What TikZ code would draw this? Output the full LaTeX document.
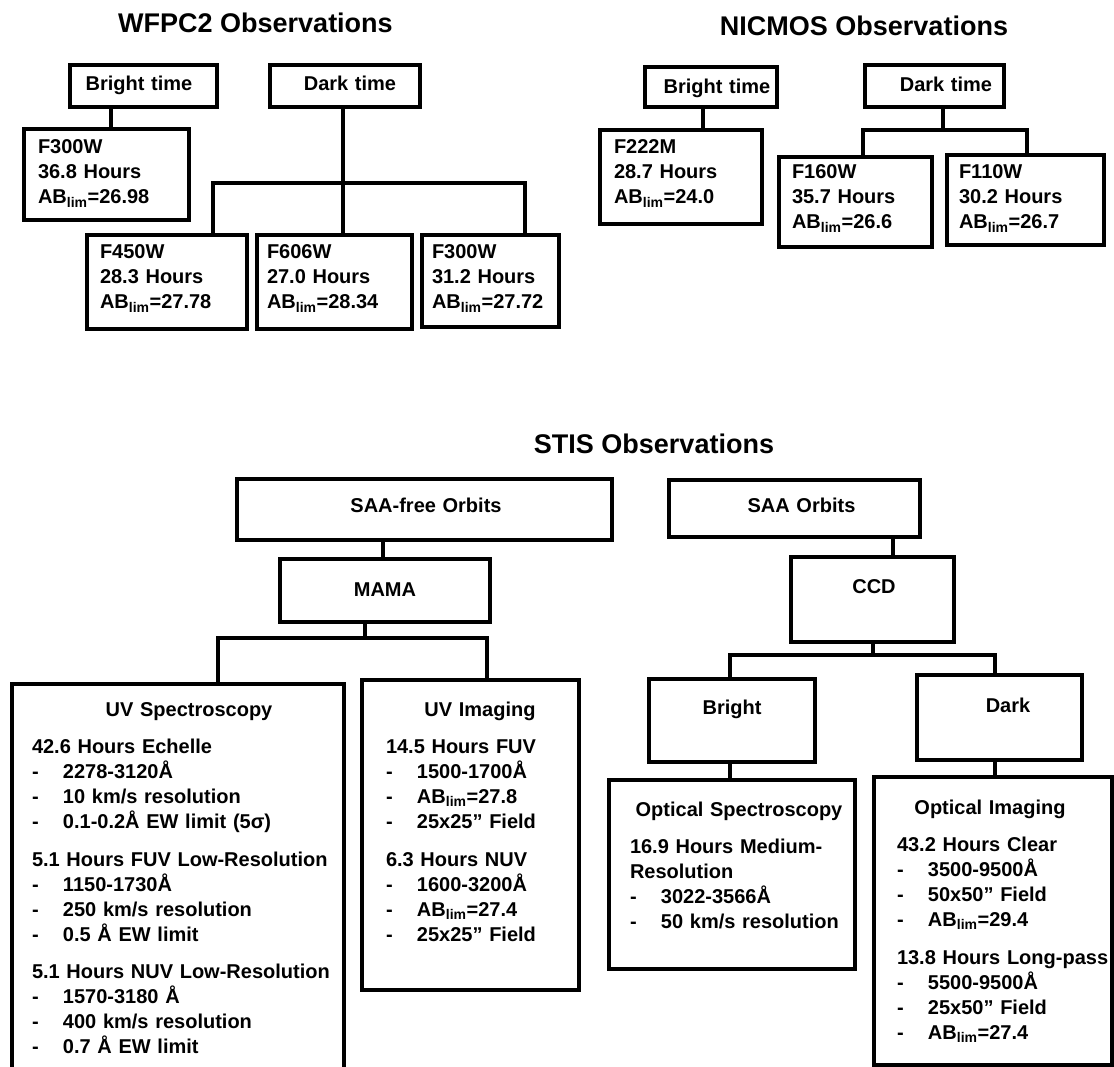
\documentclass[tikz,border=0pt]{standalone}
\usepackage{fontspec}
\setmainfont{Liberation Sans}
\usepackage{tikz}

\newcommand{\boxfont}{\fontsize{20}{25}\selectfont\bfseries}
\newcommand{\titlefont}{\fontsize{27}{32}\selectfont\bfseries}
\newcommand{\ABlim}{AB\textsubscript{lim}}
\newcommand{\boxhead}[2][0pt]{\makebox[\hsize][c]{\hspace*{#1}#2}}
\newcommand{\dashitem}[1]{\makebox[31pt][l]{-}\mbox{#1}}

\begin{document}
\begin{tikzpicture}[
  x=1pt,y=-1pt,
  obs/.style n args={3}{draw, line width=4pt, anchor=north west,
    inner xsep=0pt, inner ysep=0pt, font=\boxfont, align=left,
    text width=#1, text height=#2, text depth=#3},
  title/.style={font=\titlefont, inner sep=0pt},
  link/.style={line width=4pt, line join=miter}
]
\path[use as bounding box, fill=white] (0,0) rectangle (1114,1067);

\node[title] (wfpc) at (255.5,23) {WFPC2 Observations};
\node[title] (nicmos) at (864,26) {NICMOS Observations};
\node[title] (stis) at (654,444) {STIS Observations};

\node[obs={147pt}{26pt}{16pt}] (wbright) at (68,63) {\boxhead[-9pt]{Bright time}};
\node[obs={150pt}{26pt}{16pt}] (wdark) at (268,63) {\boxhead[10pt]{Dark time}};
\node[obs={137pt}{25pt}{66pt}, inner xsep=14pt] (wfa) at (22,127) {F300W\\36.8 Hours\\\ABlim=26.98};
\node[obs={134pt}{24pt}{70pt}, inner xsep=13pt] (wfb) at (85,233) {F450W\\28.3 Hours\\\ABlim=27.78};
\node[obs={135pt}{24pt}{70pt}, inner xsep=10pt] (wfc) at (255,233) {F606W\\27.0 Hours\\\ABlim=28.34};
\node[obs={117pt}{24pt}{68pt}, inner xsep=10pt] (wfd) at (420,233) {F300W\\31.2 Hours\\\ABlim=27.72};

\node[obs={132pt}{27pt}{13pt}] (nbright) at (643,65) {\boxhead[12pt]{Bright time}};
\node[obs={139pt}{27pt}{15pt}] (ndark) at (863,63) {\boxhead[23pt]{Dark time}};
\node[obs={134pt}{24pt}{70pt}, inner xsep=14pt] (nfa) at (598,128) {F222M\\28.7 Hours\\\ABlim=24.0};
\node[obs={127pt}{22pt}{68pt}, inner xsep=13pt] (nfb) at (777,155) {F160W\\35.7 Hours\\\ABlim=26.6};
\node[obs={133pt}{24pt}{66pt}, inner xsep=12pt] (nfc) at (945,153) {F110W\\30.2 Hours\\\ABlim=26.7};

\node[obs={375pt}{33pt}{28pt}] (saafree) at (235,477) {\boxhead[3pt]{SAA-free Orbits}};
\node[obs={251pt}{32pt}{25pt}] (saa) at (667,478) {\boxhead[14pt]{SAA Orbits}};
\node[obs={210pt}{37pt}{26pt}] (mama) at (278,557) {\boxhead{MAMA}};
\node[obs={163pt}{36pt}{49pt}] (ccd) at (789,555) {\boxhead[3pt]{CCD}};
\node[obs={166pt}{35pt}{48pt}] (cbright) at (647,677) {\boxhead{Bright}};
\node[obs={165pt}{37pt}{48pt}] (cdark) at (915,673) {\boxhead[17pt]{Dark}};

\node[obs={292pt}{32pt}{366pt}, inner xsep=20pt] (uvspec) at (10,682) {\boxhead[22pt]{UV Spectroscopy}\\[12.5pt]
  \mbox{42.6 Hours Echelle}\\
  \dashitem{2278-3120Å}\\
  \dashitem{10 km/s resolution}\\
  \dashitem{0.1-0.2Å EW limit (5σ)}\\[12.5pt]
  \mbox{5.1 Hours FUV Low-Resolution}\\
  \dashitem{1150-1730Å}\\
  \dashitem{250 km/s resolution}\\
  \dashitem{0.5 Å EW limit}\\[12.5pt]
  \mbox{5.1 Hours NUV Low-Resolution}\\
  \dashitem{1570-3180 Å}\\
  \dashitem{400 km/s resolution}\\
  \dashitem{0.7 Å EW limit}};
\node[obs={169pt}{36pt}{274pt}, inner xsep=24pt] (uvimg) at (360,678) {\boxhead[19pt]{UV Imaging}\\[12.5pt]
  \mbox{14.5 Hours FUV}\\
  \dashitem{1500-1700Å}\\
  \dashitem{\ABlim=27.8}\\
  \dashitem{25x25” Field}\\[12.5pt]
  \mbox{6.3 Hours NUV}\\
  \dashitem{1600-3200Å}\\
  \dashitem{\ABlim=27.4}\\
  \dashitem{25x25” Field}};
\node[obs={204pt}{36pt}{153pt}, inner xsep=21pt] (optspec) at (607,778) {\boxhead[14pt]{Optical Spectroscopy}\\[12.5pt]
  \mbox{16.9 Hours Medium-}\\
  Resolution\\
  \dashitem{3022-3566Å}\\
  \dashitem{50 km/s resolution}};
\node[obs={192pt}{37pt}{251pt}, inner xsep=23pt] (optimg) at (872,775) {\boxhead[-6pt]{Optical Imaging}\\[12.5pt]
  \mbox{43.2 Hours Clear}\\
  \dashitem{3500-9500Å}\\
  \dashitem{50x50” Field}\\
  \dashitem{\ABlim=29.4}\\[12.5pt]
  \mbox{13.8 Hours Long-pass}\\
  \dashitem{5500-9500Å}\\
  \dashitem{25x50” Field}\\
  \dashitem{\ABlim=27.4}};

\coordinate (wjoin) at (343,183);
\coordinate (njoin) at (943,130);
\coordinate (mjoin) at (365,638);
\coordinate (cjoin) at (873,655);

\draw[link] (wbright.south -| 111,0) -- (wfa.north -| 111,0);
\draw[link] (wdark.south -| wjoin) -- (wfc.north -| wjoin);
\draw[link] (wfb.north -| 213,0) |- (wjoin) -| (wfd.north -| 525,0);
\draw[link] (nbright.south -| 703,0) -- (nfa.north -| 703,0);
\draw[link] (ndark.south -| njoin) -- (njoin);
\draw[link] (nfb.north -| 863,0) |- (njoin) -| (nfc.north -| 1027,0);
\draw[link] (saafree.south -| 383,0) -- (mama.north -| 383,0);
\draw[link] (mama.south -| mjoin) -- (mjoin);
\draw[link] (uvspec.north -| 218,0) |- (mjoin) -| (uvimg.north -| 487,0);
\draw[link] (saa.south -| 893,0) -- (ccd.north -| 893,0);
\draw[link] (ccd.south -| cjoin) -- (cjoin);
\draw[link] (cbright.north -| 730,0) |- (cjoin) -| (cdark.north -| 995,0);
\draw[link] (cbright.south -| 730,0) -- (optspec.north -| 730,0);
\draw[link] (cdark.south -| 995,0) -- (optimg.north -| 995,0);
\end{tikzpicture}
\end{document}
